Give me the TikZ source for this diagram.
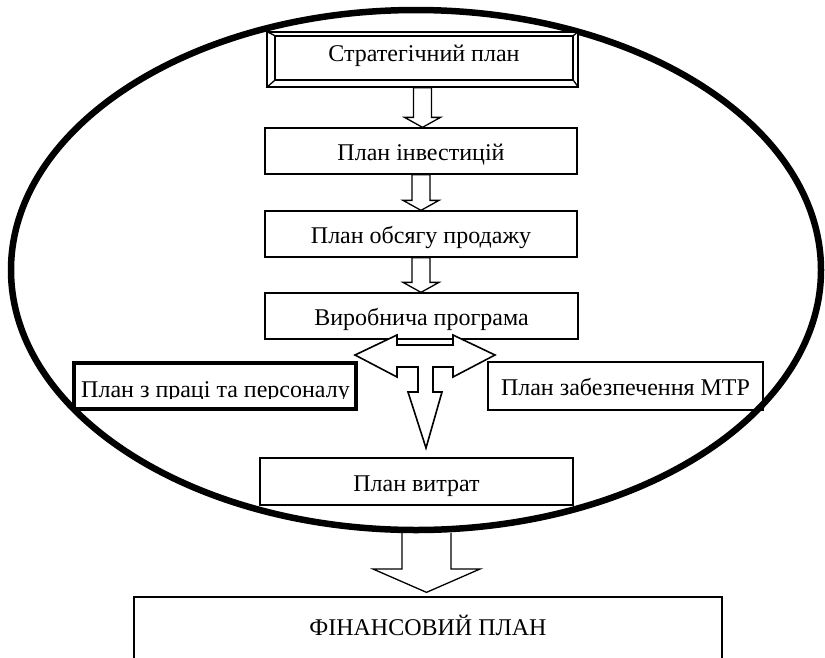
\documentclass[tikz,border=0pt]{standalone}
\usepackage{fontspec}
\setmainfont{Liberation Serif}
\usetikzlibrary{calc}
\tikzset{
  txt/.style={font=\fontsize{24}{24}\selectfont},
  box/.style={draw, line width=1.3pt, fill=white, inner sep=0pt, txt, text height=19pt, text depth=0pt},
  harrow/.style={draw, line width=1.3pt, fill=white, line join=miter},
  oval/.style={draw, line width=6.5pt},
}
\newcommand\hdown[2]{%
  \path let \p1=(#1.south), \p2=(#2.north) in
  [harrow] (\x1-9pt,\y1) -- (\x1-9pt,\y2+10pt) -- (\x1-18pt,\y2+10pt) -- (\x1,\y2)
  -- (\x1+18pt,\y2+10pt) -- (\x1+9pt,\y2+10pt) -- (\x1+9pt,\y1) -- cycle;}
\begin{document}
\begin{tikzpicture}[x=1pt,y=-1pt]
\useasboundingbox (0,0) rectangle (825,657);
\clip (0,0) rectangle (825,657);
% MTR box (under the oval)
\node[box, minimum width=275pt, minimum height=48pt] (mtr) at (625.5,386) {План забезпечення МТР};
% oval
\draw[oval] (416,270) ellipse [x radius=405pt, y radius=260pt];
% strategic plan (bevel)
\node[draw, line width=1.3pt, fill=white, minimum width=311pt, minimum height=55pt, inner sep=0pt] (strat) at (422.5,59.5) {};
\node[draw, line width=1.3pt, fill=white, minimum width=298pt, minimum height=44pt, inner sep=0pt, txt, text height=12pt, text depth=6pt] (stratin) at (424,58) {Стратегічний план};
\draw[line width=1.3pt] (strat.north west) -- (stratin.north west)
  (strat.north east) -- (stratin.north east)
  (strat.south west) -- (stratin.south west)
  (strat.south east) -- (stratin.south east);
% chain boxes
\node[box, minimum width=312pt, minimum height=46pt] (inv) at (421,151) {План інвестицій};
\node[box, minimum width=312pt, minimum height=46pt] (sales) at (421,234) {План обсягу продажу};
\node[box, minimum width=313pt, minimum height=46pt] (prod) at (421.5,316) {Виробнича програма};
\node[box, minimum width=313pt, minimum height=47pt] (costs) at (416.5,481.5) {План витрат};
% labour box (thick, text clipped)
\node[draw, line width=4.5pt, fill=white, minimum width=282pt, minimum height=46pt, inner sep=0pt] (labour) at (215,386) {};
\begin{scope}
  \clip (labour.north west) rectangle (356,398);
  \node[txt, anchor=base, inner sep=0pt] (labourtxt) at (215.5,397) {План з праці та персоналу};
\end{scope}
% arrows between boxes
\hdown{strat}{inv}
\hdown{inv}{sales}
\hdown{sales}{prod}
% T-shaped arrow
\path[harrow, line width=1.6pt] (355,355) -- (397,335) -- (397,345) -- (453,345) -- (453,335) -- (495,355)
  -- (453,377) -- (453,367) -- (433,367) -- (433,392) -- (442,392) -- (426,448)
  -- (408,392) -- (418,392) -- (418,367) -- (397,367) -- (397,377) -- cycle;
% financial plan
\node[draw, line width=1.3pt, minimum width=588pt, minimum height=90pt, inner sep=0pt] (finbox) at (428,642) {};
\node[font=\fontsize{24}{24}\selectfont, anchor=base, inner sep=0pt] (fin) at (428,635) {ФІНАНСОВИЙ ПЛАН};
% big arrow to financial plan
\coordinate (ovalbottom) at (426.5,533);
\draw[line width=1.3pt, line join=miter] ($(ovalbottom)+(-24.5,0)$) -- ($(ovalbottom)+(-24.5,36)$) -- ($(ovalbottom)+(-53.5,36)$)
  -- ($(finbox.north)+(-1.5,-4)$) -- ($(ovalbottom)+(53.5,36)$) -- ($(ovalbottom)+(24.5,36)$) -- ($(ovalbottom)+(24.5,0)$);
\end{tikzpicture}
\end{document}
